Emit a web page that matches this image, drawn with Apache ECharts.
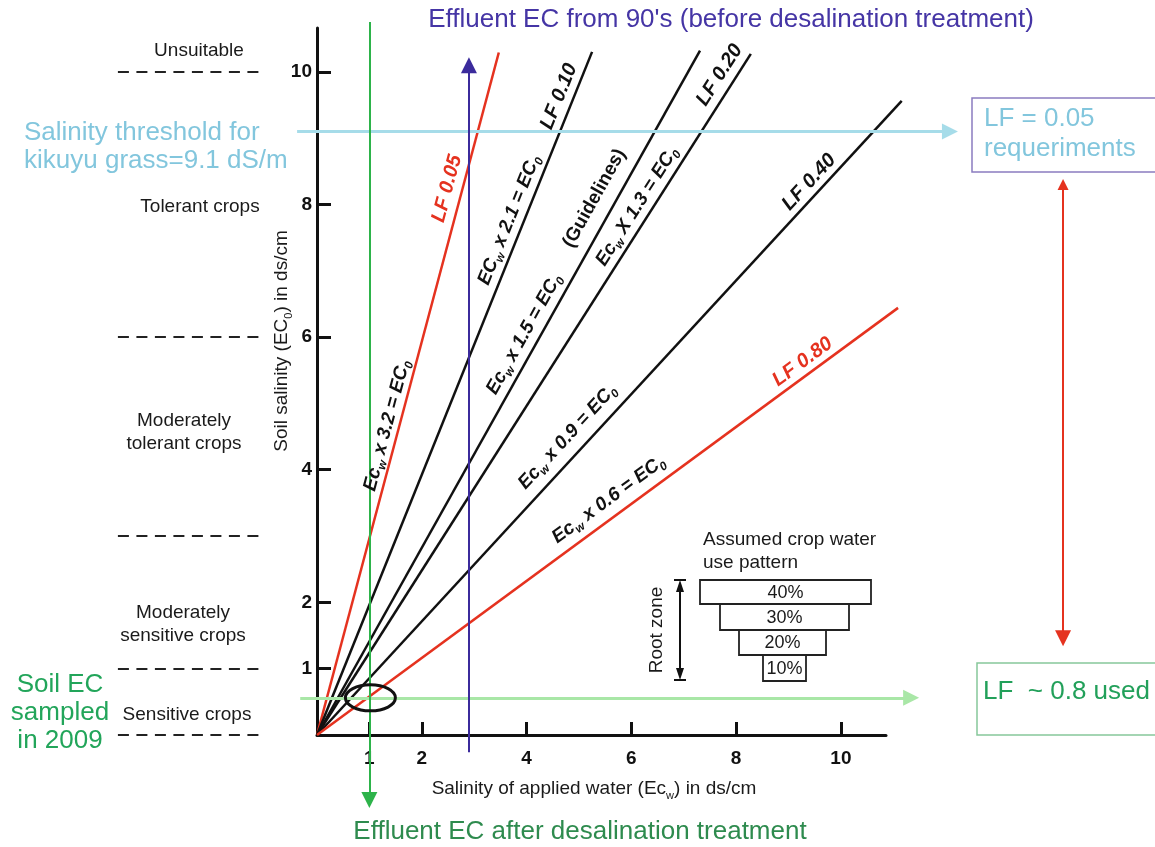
<!DOCTYPE html>
<html>
<head>
<meta charset="utf-8">
<script src="https://cdn.jsdelivr.net/npm/echarts@6/dist/echarts.min.js"></script>
<style>
  html, body { margin: 0; padding: 0; background: #fff; }
  #main { width: 1155px; height: 847px; }
</style>
</head>
<body>
<div id="main"></div>
<script>
// ticks shown on both axes (dS/cm)
const xTicks = [1, 2, 4, 6, 8, 10];
const yTicks = [1, 2, 4, 6, 8, 10];

// leaching fraction lines, all drawn from the origin to these end points
const lfNames = ['LF 0.05', 'LF 0.10', 'Guidelines', 'LF 0.20', 'LF 0.40', 'LF 0.80'];
const lfEndEcw = [3.47, 5.25, 7.31, 8.28, 11.16, 11.09];
const lfEndEc0 = [10.29, 10.30, 10.32, 10.27, 9.56, 6.44];
const lfFactor = ['3.2', '2.1', '1.5', '1.3', '0.9', '0.6'];

// crop tolerance classes (soil EC limits)
const classLimits = [10, 6, 3, 1, 0];
const classNames = ['Unsuitable', 'Tolerant crops', 'Moderately\ntolerant crops',
  'Moderately\nsensitive crops', 'Sensitive crops'];

// reference values
const effluent90s = 2.9;      // EC of effluent before desalination
const effluentNow = 1.0;      // EC of effluent after desalination
const kikuyuThreshold = 9.1;  // salinity threshold kikuyu grass
const soilSampled = 0.56;     // soil EC sampled in 2009
const waterUse = ['40%', '30%', '20%', '10%'];

const FONT = "'Liberation Sans', Arial, sans-serif";
const NARROW = "'Liberation Sans Narrow', 'Arial Narrow', 'Liberation Sans', sans-serif";
const RED = '#e5321f';
const X_MAX = 10.86, Y_MAX = 10.66;

const chart = echarts.init(document.getElementById('main'));

function arrow(name, from, to, color, width, both) {
  return {
    type: 'lines', name: name, coordinateSystem: 'cartesian2d', clip: false, silent: true, z: 4,
    symbol: both ? ['triangle', 'triangle'] : ['none', 'triangle'],
    symbolSize: [11, 16],
    lineStyle: { color: color, width: width, opacity: 1 },
    data: [{ coords: [from, to] }]
  };
}

const series = [];
// crop class dashed limits left of the axis
series.push({
  type: 'lines', coordinateSystem: 'cartesian2d', clip: false, silent: true,
  symbol: 'none',
  lineStyle: { color: '#222', width: 2, type: [11, 7.5], opacity: 1 },
  data: classLimits.map(v => ({ coords: [[-3.80, v], [-1.09, v]] }))
});
// LF lines (lines series so they may run past the axis end)
lfNames.forEach((n, i) => {
  series.push({
    type: 'lines', name: n, coordinateSystem: 'cartesian2d', clip: false, silent: true, symbol: 'none', z: 2,
    lineStyle: { color: (i === 0 || i === 5) ? RED : '#111', width: 2.5, opacity: 1 },
    data: [{ coords: [[0, 0], [lfEndEcw[i], lfEndEc0[i]]] }]
  });
});
series.push(arrow('kikuyu', [-0.38, kikuyuThreshold], [12.08, kikuyuThreshold], '#a6dce9', 3));
series.push(arrow('soil', [-0.32, soilSampled], [11.34, soilSampled], '#a9e7a7', 3));
series.push(arrow('90s', [effluent90s, -0.26], [effluent90s, 10.1], '#3b2b9c', 2));
series.push(arrow('now', [effluentNow, 10.75], [effluentNow, -0.98], '#2db34a', 2));
series.push(arrow('gap', [14.24, 8.3], [14.24, 1.46], RED, 2, true));

chart.setOption({
  animation: false,
  backgroundColor: '#fff',
  grid: { left: 317, right: 269, top: 28, bottom: 112 },
  xAxis: {
    type: 'value', min: 0, max: X_MAX,
    splitLine: { show: false },
    axisLine: { lineStyle: { color: '#111', width: 3 } },
    axisTick: { inside: true, length: 13, customValues: xTicks, lineStyle: { color: '#111', width: 3 } },
    axisLabel: { customValues: xTicks, margin: 14, fontFamily: NARROW, fontWeight: 'bold', fontSize: 19, color: '#111' }
  },
  yAxis: {
    type: 'value', min: 0, max: Y_MAX,
    splitLine: { show: false },
    axisLine: { lineStyle: { color: '#111', width: 3 } },
    axisTick: { inside: true, length: 14, customValues: yTicks, lineStyle: { color: '#111', width: 3 } },
    axisLabel: { customValues: yTicks, margin: 5, fontFamily: NARROW, fontWeight: 'bold', fontSize: 19, color: '#111' }
  },
  series: series
});

// labels along the lines: t = fraction along line, off = px to the left side
const lineLabels = [
  { line: 0, t: 0.795, off: 15, kind: 'lf', color: RED },
  { line: 0, t: 0.449, off: 12, kind: 'f', pre: 'Ec', x: 'x' },
  { line: 1, t: 0.927, off: 14, kind: 'lf', color: '#111' },
  { line: 1, t: 0.746, off: 14, kind: 'f', pre: 'EC', x: 'x' },
  { line: 2, t: 0.770, off: 20, kind: 'txt', text: '(Guidelines)' },
  { line: 2, t: 0.575, off: 15, kind: 'f', pre: 'Ec', x: 'x' },
  { line: 3, t: 0.957, off: 15, kind: 'lf', color: '#111' },
  { line: 3, t: 0.765, off: 14, kind: 'f', pre: 'Ec', x: 'X' },
  { line: 4, t: 0.858, off: 13, kind: 'lf', color: '#111' },
  { line: 4, t: 0.451, off: 18, kind: 'f', pre: 'Ec', x: 'x' },
  { line: 5, t: 0.849, off: 13, kind: 'lf', color: RED },
  { line: 5, t: 0.519, off: 17, kind: 'f', pre: 'Ec', x: 'x' }
];

function richStyle(color, size) {
  return {
    m: { fontFamily: FONT, fontSize: size, fontWeight: 'bold', fontStyle: 'italic', fill: color, lineHeight: 24, verticalAlign: 'middle' },
    s: { fontFamily: FONT, fontSize: 12, fontWeight: 'bold', fontStyle: 'italic', fill: color, lineHeight: 10, verticalAlign: 'bottom' }
  };
}

function plain(x, y, text, size, color, align, extra) {
  return Object.assign({
    type: 'text', x: x, y: y, silent: true, z: 10,
    style: { text: text, fontFamily: FONT, fontSize: size, fill: color, align: align || 'center', verticalAlign: 'middle', lineHeight: size + 4 }
  }, extra || {});
}

function buildGraphic() {
  const g = [];
  const p0 = chart.convertToPixel({ gridIndex: 0 }, [0, 0]);
  lineLabels.forEach(l => {
    const p1 = chart.convertToPixel({ gridIndex: 0 }, [lfEndEcw[l.line], lfEndEc0[l.line]]);
    const dx = p1[0] - p0[0], dy = p1[1] - p0[1], L = Math.hypot(dx, dy);
    const cx = p0[0] + l.t * dx + l.off * dy / L;
    const cy = p0[1] + l.t * dy - l.off * dx / L;
    let text, rich;
    if (l.kind === 'lf') { text = '{m|' + lfNames[l.line] + '}'; rich = richStyle(l.color, 20); }
    else if (l.kind === 'txt') { text = '{m|' + l.text + '}'; rich = richStyle('#111', 19); rich.m.fontStyle = 'normal'; }
    else { text = '{m|' + l.pre + '}{s|w}{m| ' + l.x + ' ' + lfFactor[l.line] + ' = EC}{s|0}'; rich = richStyle('#111', 19); }
    g.push({
      type: 'text', x: cx, y: cy, rotation: Math.atan2(-dy, dx), silent: true, z: 10,
      style: { text: text, rich: rich, align: 'center', verticalAlign: 'middle' }
    });
  });

  // crop class names
  const classPos = [[199, 51], [200, 207], [184, 432], [183, 624], [187, 715]];
  classNames.forEach((n, i) => g.push({ type: 'text', x: classPos[i][0], y: classPos[i][1], silent: true, z: 10,
    style: { text: n, fontFamily: FONT, fontSize: 19, fill: '#1a1a1a', align: 'center', verticalAlign: 'middle', lineHeight: 23 } }));

  // titles and notes
  g.push(plain(731, 20, "Effluent EC from 90's (before desalination treatment)", 26, '#4535a5'));
  g.push(plain(580, 832, 'Effluent EC after desalination treatment', 26, '#2e8b4e'));
  g.push({ type: 'text', x: 24, y: 147, silent: true, z: 10,
    style: { text: 'Salinity threshold for\nkikuyu grass=9.1 dS/m', fontFamily: FONT, fontSize: 26, fill: '#82c6dd', align: 'left', verticalAlign: 'middle', lineHeight: 28 } });
  g.push({ type: 'text', x: 60, y: 713, silent: true, z: 10,
    style: { text: 'Soil EC\nsampled\nin 2009', fontFamily: FONT, fontSize: 26, fill: '#22a55a', align: 'center', verticalAlign: 'middle', lineHeight: 28 } });

  // axis names
  g.push({ type: 'text', x: 594, y: 789, silent: true, z: 10,
    style: { text: '{a|Salinity of applied water (Ec}{b|w}{a|) in ds/cm}', align: 'center', verticalAlign: 'middle',
      rich: { a: { fontFamily: FONT, fontSize: 19, fill: '#1a1a1a', lineHeight: 24, verticalAlign: 'middle' },
              b: { fontFamily: FONT, fontSize: 11, fill: '#1a1a1a', lineHeight: 9, verticalAlign: 'bottom' } } } });
  g.push({ type: 'text', x: 282, y: 341, rotation: Math.PI / 2, silent: true, z: 10,
    style: { text: '{a|Soil salinity (EC}{b|0}{a|) in ds/cm}', align: 'center', verticalAlign: 'middle',
      rich: { a: { fontFamily: FONT, fontSize: 19, fill: '#1a1a1a', lineHeight: 24, verticalAlign: 'middle' },
              b: { fontFamily: FONT, fontSize: 11, fill: '#1a1a1a', lineHeight: 9, verticalAlign: 'bottom' } } } });

  // soil sample ellipse
  const e = chart.convertToPixel({ gridIndex: 0 }, [effluentNow, soilSampled]);
  g.push({ type: 'ellipse', silent: true, z: 6, shape: { cx: e[0] + 1, cy: e[1], rx: 25, ry: 13 },
    style: { fill: 'none', stroke: '#111', lineWidth: 3 } });

  // right boxes
  g.push({ type: 'rect', silent: true, shape: { x: 972, y: 98, width: 200, height: 74 }, style: { fill: '#fff', stroke: '#8a7cc0', lineWidth: 1.5 } });
  g.push({ type: 'text', x: 984, y: 134, silent: true, z: 10,
    style: { text: 'LF = 0.05\nrequeriments', fontFamily: FONT, fontSize: 26, fill: '#82c6dd', align: 'left', verticalAlign: 'middle', lineHeight: 30 } });
  g.push({ type: 'rect', silent: true, shape: { x: 977, y: 663, width: 200, height: 72 }, style: { fill: '#fff', stroke: '#86c79a', lineWidth: 1.5 } });
  g.push(plain(983, 692, 'LF  ~ 0.8 used', 26, '#22a05a', 'left'));

  // inset: assumed crop water use pattern
  g.push(plain(703, 540, 'Assumed crop water', 19, '#1a1a1a', 'left'));
  g.push(plain(703, 563, 'use pattern', 19, '#1a1a1a', 'left'));
  const boxes = [[700, 580, 171, 24], [720, 604, 129, 26], [739, 630, 87, 25], [763, 655, 43, 26]];
  boxes.forEach((b, i) => {
    g.push({ type: 'rect', silent: true, z: 8, shape: { x: b[0], y: b[1], width: b[2], height: b[3] },
      style: { fill: '#fff', stroke: '#222', lineWidth: 1.8 } });
    g.push(plain(b[0] + b[2] / 2, b[1] + b[3] / 2 + 1, waterUse[i], 18, '#1a1a1a', 'center', { z: 9 }));
  });
  g.push({ type: 'line', silent: true, shape: { x1: 680, y1: 586, x2: 680, y2: 674 }, style: { stroke: '#111', lineWidth: 2 } });
  g.push({ type: 'polygon', silent: true, shape: { points: [[680, 580], [676, 592], [684, 592]] }, style: { fill: '#111' } });
  g.push({ type: 'polygon', silent: true, shape: { points: [[680, 680], [676, 668], [684, 668]] }, style: { fill: '#111' } });
  g.push({ type: 'line', silent: true, shape: { x1: 674, y1: 580, x2: 686, y2: 580 }, style: { stroke: '#111', lineWidth: 2 } });
  g.push({ type: 'line', silent: true, shape: { x1: 674, y1: 680, x2: 686, y2: 680 }, style: { stroke: '#111', lineWidth: 2 } });
  g.push(plain(657, 630, 'Root zone', 19, '#1a1a1a', 'center', { rotation: Math.PI / 2 }));
  return g;
}

chart.setOption({ graphic: buildGraphic() });
</script>
</body>
</html>
